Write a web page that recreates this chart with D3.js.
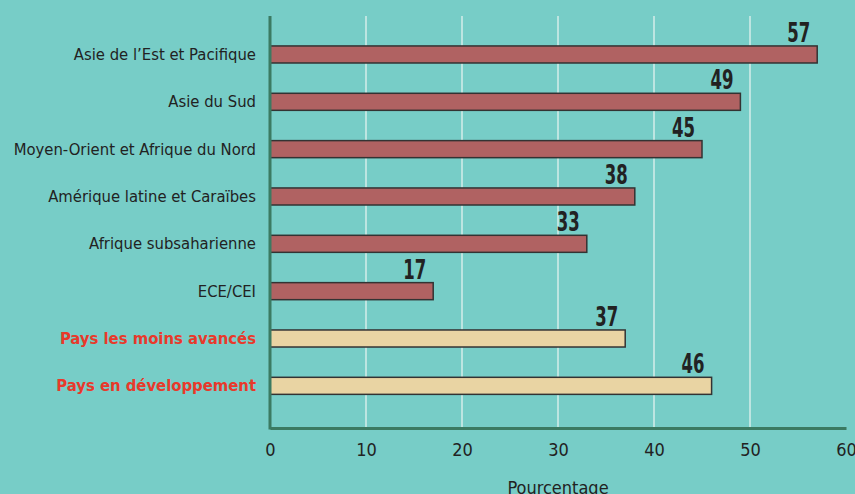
<!DOCTYPE html>
<html>
<head>
<meta charset="utf-8">
<script src="https://cdn.jsdelivr.net/npm/d3@7"></script>
<style>
  body { margin: 0; background: #77cdc7; }
  svg { display: block; }
  text { font-family: "Liberation Sans Narrow", "DejaVu Sans Condensed", "Arial Narrow", sans-serif; }
</style>
</head>
<body>
<svg id="chart" width="855" height="494"></svg>
<script>
const categories = [
  "Asie de l’Est et Pacifique",
  "Asie du Sud",
  "Moyen-Orient et Afrique du Nord",
  "Amérique latine et Caraïbes",
  "Afrique subsaharienne",
  "ECE/CEI",
  "Pays les moins avancés",
  "Pays en développement"
];
const values = [57, 49, 45, 38, 33, 17, 37, 46];
const groups = ["region", "region", "region", "region", "region", "region", "total", "total"];
const xTicks = [0, 10, 20, 30, 40, 50, 60];

const svg = d3.select("#chart");
const plotLeft = 270, plotRight = 846, plotTop = 16, plotBottom = 428;

const x = d3.scaleLinear().domain([0, 60]).range([plotLeft, plotRight]);
const y = d3
  .scaleBand()
  .domain(categories)
  .range([30.8, 409.5])
  .paddingInner(0.64)
  .paddingOuter(0.32);

const data = categories.map((c, i) => ({ name: c, value: values[i], group: groups[i] }));

// grid lines
svg
  .selectAll("line.grid")
  .data(xTicks.slice(1, -1))
  .enter()
  .append("line")
  .attr("class", "grid")
  .attr("x1", (d) => x(d))
  .attr("x2", (d) => x(d))
  .attr("y1", plotTop)
  .attr("y2", plotBottom)
  .attr("stroke", "#bde5e1")
  .attr("stroke-width", 2);

// bars
svg
  .selectAll("rect.bar")
  .data(data)
  .enter()
  .append("rect")
  .attr("class", "bar")
  .attr("x", x(0))
  .attr("y", (d) => y(d.name))
  .attr("width", (d) => x(d.value) - x(0))
  .attr("height", y.bandwidth())
  .attr("fill", (d) => (d.group === "total" ? "#e9d4a3" : "#b06262"))
  .attr("stroke", "#333")
  .attr("stroke-width", 1.5);

// value labels (condensed look)
svg
  .selectAll("text.value")
  .data(data)
  .enter()
  .append("text")
  .attr("class", "value")
  .attr("x", (d) => x(d.value) - 30)
  .attr("y", (d) => y(d.name) - 4)
  .attr("textLength", 23)
  .attr("lengthAdjust", "spacingAndGlyphs")
  .attr("font-size", 26)
  .attr("font-weight", "bold")
  .attr("fill", "#222")
  .text((d) => d.value);

// category labels
svg
  .selectAll("text.cat")
  .data(data)
  .enter()
  .append("text")
  .attr("class", "cat")
  .attr("x", 256)
  .attr("y", (d) => y(d.name) + y.bandwidth() / 2 + 5.5)
  .attr("text-anchor", "end")
  .attr("font-size", 16.5)
  .attr("font-weight", (d) => (d.group === "total" ? "bold" : "normal"))
  .attr("fill", (d) => (d.group === "total" ? "#e8392b" : "#222"))
  .text((d) => d.name);

// axes
const xAxis = svg
  .append("g")
  .attr("transform", `translate(0,${plotBottom})`)
  .call(d3.axisBottom(x).tickValues(xTicks).tickSize(0).tickPadding(15));
xAxis.select(".domain").attr("stroke", "#3b7a62").attr("stroke-width", 3);
xAxis.selectAll("text").attr("font-size", 18).attr("fill", "#222");

svg
  .append("line")
  .attr("x1", plotLeft)
  .attr("x2", plotLeft)
  .attr("y1", plotTop)
  .attr("y2", plotBottom + 1.5)
  .attr("stroke", "#3b7a62")
  .attr("stroke-width", 3);

svg
  .append("text")
  .attr("x", x(30))
  .attr("y", 494)
  .attr("text-anchor", "middle")
  .attr("font-size", 18)
  .attr("fill", "#222")
  .text("Pourcentage");
</script>
</body>
</html>
